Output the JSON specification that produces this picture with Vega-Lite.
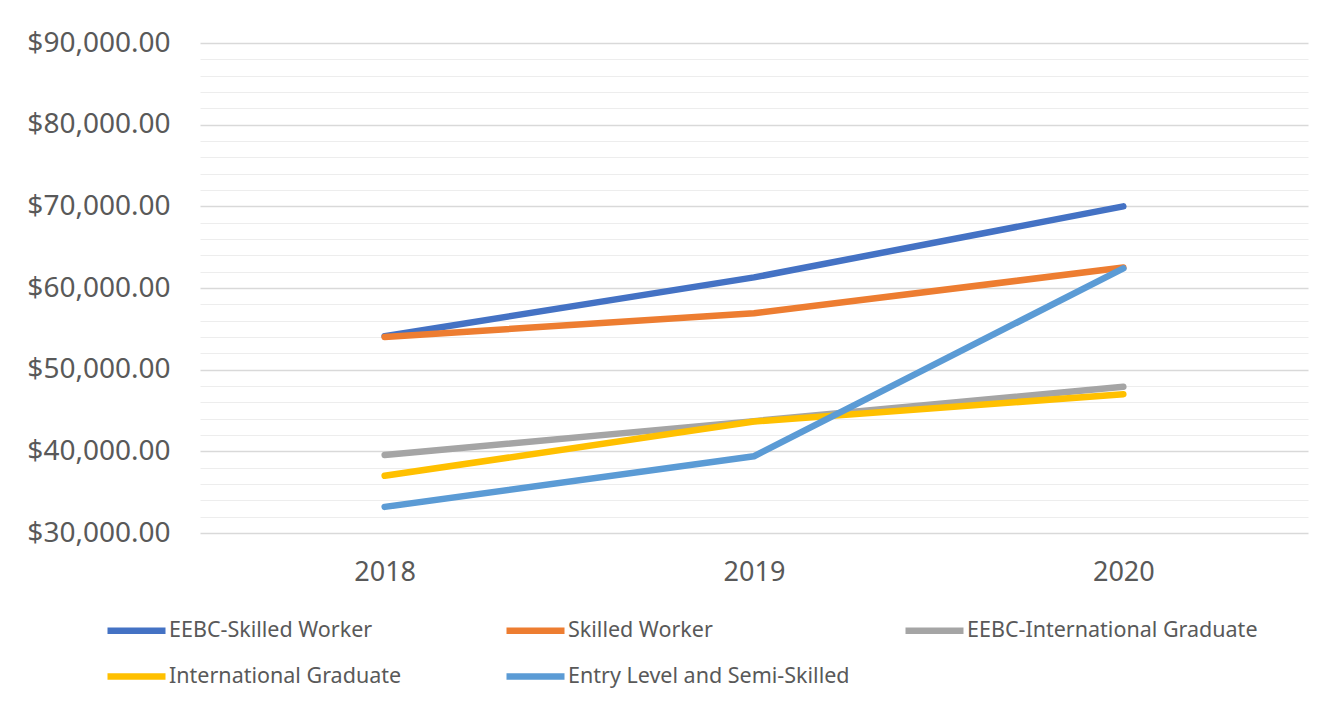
{
  "$schema": "https://vega.github.io/schema/vega-lite/v6.json",
  "width": 1108,
  "height": 490,
  "autosize": {"type": "none"},
  "padding": {"left": 200, "top": 43, "right": 33, "bottom": 177},
  "background": "white",
  "config": {
    "view": {"stroke": null},
    "font": "Noto Sans"
  },
  "data": {
    "values": [
      {"series": "EEBC-Skilled Worker", "year": "2018", "value": 54100},
      {"series": "EEBC-Skilled Worker", "year": "2019", "value": 61300},
      {"series": "EEBC-Skilled Worker", "year": "2020", "value": 70000},
      {"series": "Skilled Worker", "year": "2018", "value": 54000},
      {"series": "Skilled Worker", "year": "2019", "value": 56900},
      {"series": "Skilled Worker", "year": "2020", "value": 62500},
      {"series": "EEBC-International Graduate", "year": "2018", "value": 39550},
      {"series": "EEBC-International Graduate", "year": "2019", "value": 43700},
      {"series": "EEBC-International Graduate", "year": "2020", "value": 47900},
      {"series": "International Graduate", "year": "2018", "value": 37000},
      {"series": "International Graduate", "year": "2019", "value": 43650},
      {"series": "International Graduate", "year": "2020", "value": 47000},
      {"series": "Entry Level and Semi-Skilled", "year": "2018", "value": 33200},
      {"series": "Entry Level and Semi-Skilled", "year": "2019", "value": 39400},
      {"series": "Entry Level and Semi-Skilled", "year": "2020", "value": 62400}
    ]
  },
  "mark": {"type": "line", "strokeWidth": 6.5, "strokeCap": "round", "strokeJoin": "round"},
  "encoding": {
    "x": {
      "field": "year",
      "type": "ordinal",
      "scale": {"type": "point", "padding": 0.5},
      "axis": {
        "title": null,
        "labelAngle": 0,
        "domain": false,
        "ticks": false,
        "labelFontSize": 27,
        "labelColor": "#595959",
        "labelPadding": 26,
        "labelFont": "Noto Sans"
      }
    },
    "y": {
      "field": "value",
      "type": "quantitative",
      "scale": {"domain": [30000, 90000], "nice": false, "zero": false},
      "axis": {
        "title": null,
        "domain": false,
        "ticks": false,
        "values": [30000, 32000, 34000, 36000, 38000, 40000, 42000, 44000, 46000, 48000, 50000, 52000, 54000, 56000, 58000, 60000, 62000, 64000, 66000, 68000, 70000, 72000, 74000, 76000, 78000, 80000, 82000, 84000, 86000, 88000, 90000],
        "labelExpr": "datum.value % 10000 === 0 ? format(datum.value, '$,.2f') : ''",
        "labelOverlap": false,
        "labelFontSize": 28,
        "labelColor": "#595959",
        "labelPadding": 30,
        "labelFont": "Noto Sans",
        "grid": true,
        "gridColor": {"condition": {"test": "datum.value % 10000 === 0", "value": "#d9d9d9"}, "value": "#ededed"},
        "gridWidth": {"condition": {"test": "datum.value % 10000 === 0", "value": 1.5}, "value": 1.2}
      }
    },
    "color": {
      "field": "series",
      "type": "nominal",
      "scale": {
        "domain": ["EEBC-Skilled Worker", "Skilled Worker", "EEBC-International Graduate", "International Graduate", "Entry Level and Semi-Skilled"],
        "range": ["#4472C4", "#ED7D31", "#A5A5A5", "#FFC000", "#5B9BD5"]
      },
      "legend": {
        "title": null,
        "orient": "none",
        "direction": "horizontal",
        "legendX": -96,
        "legendY": 555,
        "columns": 3,
        "gridAlign": "all",
        "columnPadding": 33,
        "rowPadding": -6,
        "symbolType": "stroke",
        "symbolSize": 3364,
        "symbolStrokeWidth": 6.5,
        "labelFontSize": 21.5,
        "labelColor": "#595959",
        "labelOffset": 0,
        "labelFont": "Noto Sans",
        "labelLimit": 400
      }
    }
  }
}
